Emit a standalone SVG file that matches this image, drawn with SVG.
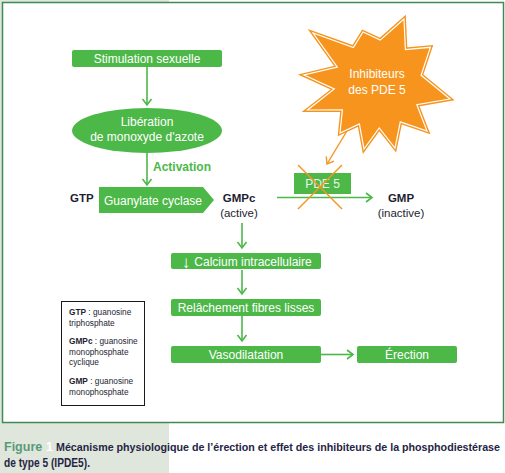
<svg xmlns="http://www.w3.org/2000/svg" width="505" height="473" viewBox="0 0 505 473">
<defs>
<style>
.box{fill:#4cb848;}
.wt{fill:#ffffff;font-family:"Liberation Sans",Arial,sans-serif;font-size:12px;text-anchor:middle;}
.dk{fill:#1e1e32;font-family:"Liberation Sans",Arial,sans-serif;font-size:11.5px;}
.b{font-weight:bold;}
.lg{fill:#1e1e32;font-family:"Liberation Sans",Arial,sans-serif;font-size:8.3px;}
.gl{stroke:#4cb848;stroke-width:1.6;fill:none;}
.ol{stroke:#f7941d;stroke-width:1.4;fill:none;}
.cap{font-family:"Liberation Sans",Arial,sans-serif;font-size:12.5px;font-weight:bold;fill:#252545;}
</style>
<marker id="ga" markerUnits="userSpaceOnUse" markerWidth="14" markerHeight="14" refX="7" refY="5" orient="auto" viewBox="0 0 14 10">
<path d="M1,0.5 L7,5 L1,9.5" fill="none" stroke="#4cb848" stroke-width="1.6"/>
</marker>
<marker id="oa" markerUnits="userSpaceOnUse" markerWidth="14" markerHeight="14" refX="7" refY="5" orient="auto" viewBox="0 0 14 10">
<path d="M1,0.5 L7,5 L1,9.5" fill="none" stroke="#f7941d" stroke-width="1.4"/>
</marker>
</defs>
<rect x="0" y="0" width="505" height="473" fill="#ffffff"/>
<rect x="0" y="0" width="169" height="473" fill="#dfe6dc"/>
<rect x="2.5" y="2.5" width="501" height="420" fill="#ffffff" stroke="#3f8a55" stroke-width="1.5"/>

<g id="connectors">
<line class="gl" x1="147" y1="67" x2="147" y2="105" marker-end="url(#ga)"/>
<line class="gl" x1="147" y1="153" x2="147" y2="185" marker-end="url(#ga)"/>
<line class="gl" x1="277" y1="197.5" x2="372" y2="197.5" marker-end="url(#ga)"/>
<line class="gl" x1="242" y1="223" x2="242" y2="248" marker-end="url(#ga)"/>
<line class="gl" x1="242" y1="270" x2="242" y2="294" marker-end="url(#ga)"/>
<line class="gl" x1="242" y1="316" x2="242" y2="341" marker-end="url(#ga)"/>
<line class="gl" x1="321" y1="354.5" x2="353" y2="354.5" marker-end="url(#ga)"/>
<line class="ol" x1="353" y1="121" x2="327" y2="164" marker-end="url(#oa)"/>
</g>

<g id="stimulation">
<rect class="box" x="72" y="50" width="150" height="17" rx="2"/>
<text class="wt" x="147" y="63">Stimulation sexuelle</text>
</g>

<g id="liberation">
<ellipse class="box" cx="147" cy="130.5" rx="75" ry="22.5"/>
<text class="wt" x="147" y="126">Libération</text>
<text class="wt" x="147" y="141">de monoxyde d'azote</text>
</g>

<g id="activation">
<text class="dk b" x="153" y="171" style="fill:#4cb848;font-size:12px">Activation</text>
</g>

<g id="gtp">
<text class="dk b" x="70" y="202">GTP</text>
</g>

<g id="guanylate">
<path class="box" d="M99,187 L203,187 L214,200 L203,213 L99,213 Z"/>
<text class="wt" x="153" y="205">Guanylate cyclase</text>
</g>

<g id="gmpc">
<text class="dk b" x="239" y="202" text-anchor="middle">GMPc</text>
<text class="dk" x="239" y="217" text-anchor="middle">(active)</text>
</g>

<g id="pde5">
<rect class="box" x="294" y="173" width="57" height="21"/>
<text class="wt" x="322.5" y="188" style="fill:#eaf6ea">PDE 5</text>
<line class="ol" x1="298" y1="165" x2="342" y2="209"/>
<line class="ol" x1="342" y1="165" x2="298" y2="209"/>
</g>

<g id="gmp">
<text class="dk b" x="401" y="202" text-anchor="middle">GMP</text>
<text class="dk" x="401" y="217" text-anchor="middle">(inactive)</text>
</g>

<g id="inhibiteurs">
<polygon points="404,19 380.3,40.1 363,32 353.4,47.5 313,33 337.3,67.2 304,75 334.3,89 307.5,110 342.4,109.9 340,133 359.4,123.9 364,149 379.2,128 395,148 400.3,121.9 427,131 416.8,104.7 450,99 421.1,75.2 430.4,47.3 405.4,49.6" fill="#f7941d" stroke="#f7941d" stroke-width="4" stroke-linejoin="miter"/>
<polygon points="404,19 380.3,40.1 363,32 353.4,47.5 313,33 337.3,67.2 304,75 334.3,89 307.5,110 342.4,109.9 340,133 359.4,123.9 364,149 379.2,128 395,148 400.3,121.9 427,131 416.8,104.7 450,99 421.1,75.2 430.4,47.3 405.4,49.6" fill="none" stroke="#ffffff" stroke-width="1.2"/>
<text class="wt" x="377" y="78">Inhibiteurs</text>
<text class="wt" x="377" y="94">des PDE 5</text>
</g>

<g id="calcium">
<rect class="box" x="171" y="253" width="150" height="16" rx="2"/>
<text class="wt" x="186" y="267.5" style="font-size:17px">↓</text>
<text class="wt" x="253" y="266">Calcium intracellulaire</text>
</g>

<g id="relachement">
<rect class="box" x="171" y="299" width="150" height="17" rx="2"/>
<text class="wt" x="246" y="312">Relâchement fibres lisses</text>
</g>

<g id="vasodilatation">
<rect class="box" x="171" y="346" width="150" height="17" rx="2"/>
<text class="wt" x="246" y="359">Vasodilatation</text>
</g>

<g id="erection">
<rect class="box" x="357" y="346" width="100" height="17" rx="2"/>
<text class="wt" x="407" y="359">Érection</text>
</g>

<g id="legende">
<rect x="61.5" y="301.5" width="83" height="104" fill="#ffffff" stroke="#1a1a1a" stroke-width="1"/>
<text class="lg" x="69" y="315"><tspan font-weight="bold">GTP</tspan> : guanosine</text>
<text class="lg" x="69" y="326">triphosphate</text>
<text class="lg" x="69" y="344"><tspan font-weight="bold">GMPc</tspan> : guanosine</text>
<text class="lg" x="69" y="355">monophosphate</text>
<text class="lg" x="69" y="365">cyclique</text>
<text class="lg" x="69" y="384"><tspan font-weight="bold">GMP</tspan> : guanosine</text>
<text class="lg" x="69" y="395">monophosphate</text>
</g>

<g id="caption">
<text class="cap" x="4" y="451" style="fill:#5a9a7a">Figure</text>
<text class="cap" x="46" y="451" style="fill:#ffffff">1</text>
<text class="cap" x="56" y="451" style="font-size:10.6px" textLength="444" lengthAdjust="spacingAndGlyphs">Mécanisme physiologique de l’érection et effet des inhibiteurs de la phosphodiestérase</text>
<text class="cap" x="4" y="467" textLength="86" lengthAdjust="spacingAndGlyphs">de type 5 (IPDE5).</text>
</g>
</svg>
